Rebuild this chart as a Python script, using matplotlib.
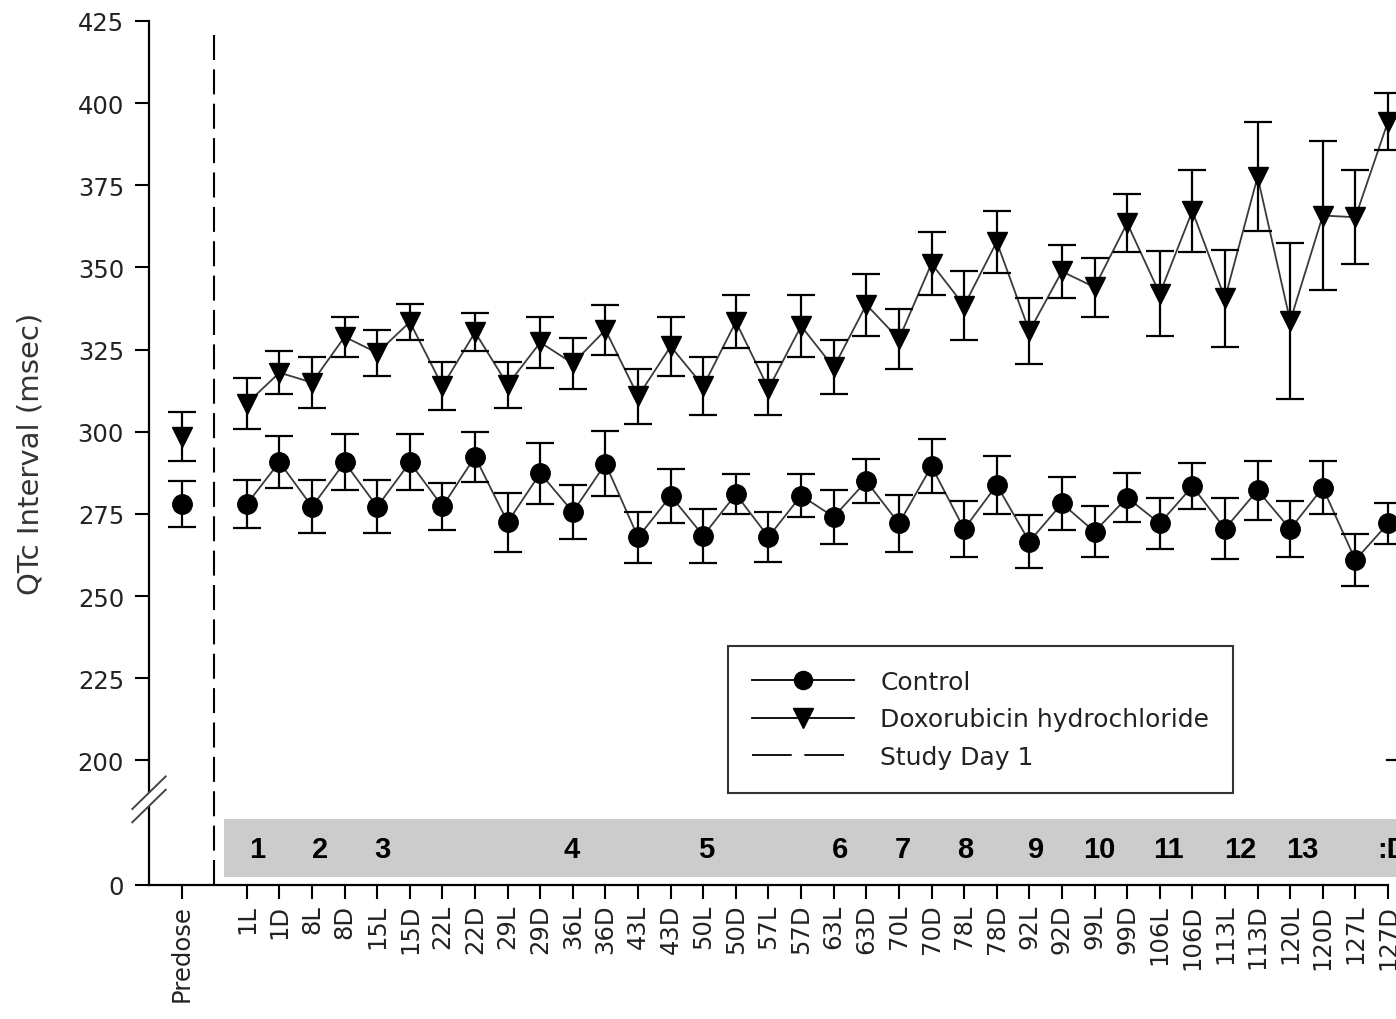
import numpy as np
import matplotlib
matplotlib.use("Agg")
import matplotlib.pyplot as plt
from matplotlib.lines import Line2D
from matplotlib.patches import Rectangle, Polygon
import matplotlib.transforms as mtransforms

# ---- data -------------------------------------------------------------
day_labels = ["1L", "1D", "8L", "8D", "15L", "15D", "22L", "22D", "29L", "29D",
              "36L", "36D", "43L", "43D", "50L", "50D", "57L", "57D", "63L", "63D",
              "70L", "70D", "78L", "78D", "92L", "92D", "99L", "99D", "106L", "106D",
              "113L", "113D", "120L", "120D", "127L", "127D"]

predose_label = "Predose"
predose_control = 278.0
predose_control_se = 7.0
predose_doxo = 298.5
predose_doxo_se = 7.5

control_mean = [278.0, 290.8, 277.2, 290.7, 277.2, 290.7, 277.3, 292.4, 272.5, 287.4,
                275.6, 290.3, 267.9, 280.5, 268.4, 281.0, 268.0, 280.6, 274.1, 285.0,
                272.1, 289.5, 270.4, 283.8, 266.6, 278.2, 269.6, 280.0, 272.1, 283.4,
                270.5, 282.2, 270.4, 283.0, 261.0, 272.1]
control_se = [7.2, 7.8, 8.0, 8.5, 8.0, 8.5, 7.2, 7.6, 9.0, 9.3,
              8.1, 9.8, 7.7, 8.1, 8.2, 6.1, 7.7, 6.5, 8.1, 6.8,
              8.6, 8.2, 8.5, 8.9, 8.1, 8.0, 7.7, 7.4, 7.7, 7.0,
              9.3, 8.9, 8.5, 8.0, 8.0, 6.1]

doxo_mean = [308.6, 318.0, 315.0, 328.9, 324.0, 333.4, 313.9, 330.3, 314.3, 327.2,
             320.8, 331.0, 310.8, 326.0, 313.9, 333.5, 313.1, 332.2, 319.6, 338.7,
             328.2, 351.2, 338.4, 357.8, 330.6, 348.8, 344.0, 363.5, 342.0, 367.2,
             340.6, 377.6, 333.7, 365.8, 365.3, 394.4]
doxo_se = [7.8, 6.6, 7.8, 6.1, 7.0, 5.6, 7.4, 5.7, 7.0, 7.7,
           7.7, 7.5, 8.3, 8.9, 8.9, 8.0, 8.1, 9.4, 8.2, 9.4,
           9.2, 9.6, 10.5, 9.5, 10.0, 8.0, 9.0, 8.8, 13.0, 12.5,
           14.7, 16.6, 23.7, 22.7, 14.3, 8.8]

week_labels = ["1", "2", "3", "4", "5", "6", "7", "8", "9", "10", "11", "12", "13"]
week_label_x = [0.31, 2.24, 4.16, 9.95, 14.08, 18.19, 20.12, 22.02, 24.22, 26.15,
                28.26, 30.47, 32.36]

yticks = [0, 200, 225, 250, 275, 300, 325, 350, 375, 400, 425]

# ---- broken y scale: 0 sits just below the 200-425 range ----------------
BREAK = 190.0
ZERO_AT = 162.1


def fwd(v):
    v = np.asarray(v, dtype=float)
    return np.where(v >= BREAK, v, ZERO_AT + v * (BREAK - ZERO_AT) / BREAK)


def inv(d):
    d = np.asarray(d, dtype=float)
    return np.where(d >= BREAK, d, (d - ZERO_AT) * BREAK / (BREAK - ZERO_AT))


plt.rcParams["font.family"] = ["DejaVu Sans"]

W, H = 1396, 1020
fig = plt.figure(figsize=(W / 100, H / 100), dpi=100)
ax = fig.add_axes([149 / W, 1 - 886 / H, 1239 / W, 864 / H])
ax.set_yscale("function", functions=(fwd, inv))

x = np.arange(len(day_labels))
x_pre = -2
x_start = -1

# week band
band_tr = mtransforms.blended_transform_factory(ax.transData, ax.transAxes)
ax.add_patch(Rectangle((-0.70, 0.0093), 40, 0.0671, transform=band_tr,
                       facecolor="#cccccc", edgecolor="none", clip_on=False, zorder=1))
for lab, xp in zip(week_labels, week_label_x):
    ax.text(xp, 0.042, lab, transform=band_tr, ha="center", va="center",
            fontsize=21, fontweight="bold", family="Liberation Sans", zorder=2)
ax.text(34.68, 0.042, ":D", transform=band_tr, ha="left", va="center",
        fontsize=21, fontweight="bold", family="Liberation Sans", zorder=2, clip_on=False)

# study day 1 marker line
ax.plot([x_start, x_start], [0, 422.5], color="black", lw=1.5,
        ls=(0, (12, 4.5)), zorder=2, clip_on=False)

ekw = dict(fmt="none", ecolor="black", elinewidth=1.6, capsize=10, capthick=1.6,
           zorder=3, clip_on=False)
mkw = dict(ls="none", color="black", zorder=5, clip_on=False)

# control series
ax.plot(x, control_mean, color="#3a3a3a", lw=1.3, zorder=2.8, clip_on=False)
ax.errorbar(x, control_mean, yerr=control_se, **ekw)
ax.plot(x, control_mean, marker="o", ms=14, **mkw)
ax.errorbar([x_pre], [predose_control], yerr=[predose_control_se], **ekw)
ax.plot([x_pre], [predose_control], marker="o", ms=14, **mkw)

# doxorubicin series
ax.plot(x, doxo_mean, color="#3a3a3a", lw=1.3, zorder=2.8, clip_on=False)
ax.errorbar(x, doxo_mean, yerr=doxo_se, **ekw)
ax.plot(x, doxo_mean, marker="v", ms=15, **mkw)
ax.errorbar([x_pre], [predose_doxo], yerr=[predose_doxo_se], **ekw)
ax.plot([x_pre], [predose_doxo], marker="v", ms=15, **mkw)

# small tick stub at the right edge
ax.plot([34.97, 35.6], [200, 200], color="black", lw=1.6, clip_on=False, zorder=3)

# axes styling
ax.set_xlim(-3, 35)
ax.set_ylim(0, 425)
ax.set_yticks(yticks)
ax.set_yticklabels([str(t) for t in yticks])
ax.set_xticks([x_pre] + list(x))
ax.set_xticklabels([predose_label] + day_labels, rotation=90)
ax.tick_params(axis="both", direction="out", length=10, width=1.5,
               labelsize=17.5, colors="black")
ax.tick_params(axis="y", pad=8)
ax.tick_params(axis="x", pad=3.5)
for lab in ax.get_xticklabels() + ax.get_yticklabels():
    lab.set_color("#222222")
for side in ("top", "right"):
    ax.spines[side].set_visible(False)
for side in ("left", "bottom"):
    ax.spines[side].set_linewidth(1.6)
ax.set_ylabel("QTc Interval (msec)", fontsize=21, color="#333333")
ax.yaxis.set_label_coords(-0.084, 0.5)

# axis break marks
ya, yb = (886 - 793.7) / 864, (886 - 807.0) / 864
dxa, dya = 16.7 / 1239, 16.3 / 864
ax.add_patch(Polygon([(-dxa, yb - dya), (dxa, yb + dya), (dxa, ya + dya), (-dxa, ya - dya)],
                     closed=True, transform=ax.transAxes, facecolor="white",
                     edgecolor="none", clip_on=False, zorder=4))
for yc in (ya, yb):
    ax.add_line(Line2D([-dxa, dxa], [yc - dya, yc + dya], transform=ax.transAxes,
                       color="#444444", lw=1.4, clip_on=False, zorder=4.5))

# legend
handles = [
    Line2D([], [], color="black", lw=1.3, marker="o", ms=13),
    Line2D([], [], color="black", lw=1.3, marker="v", ms=14),
    Line2D([], [], color="black", lw=1.3, ls=(0, (22, 7))),
]
labels = ["Control", "Doxorubicin hydrochloride", "Study Day 1"]
leg = fig.legend(handles, labels, loc="upper left",
                 bbox_to_anchor=(728 / W, 1 - 647 / H), borderaxespad=0,
                 fontsize=18, frameon=True, fancybox=False, edgecolor="black",
                 handlelength=4.1, handletextpad=1.05, labelspacing=0.54,
                 borderpad=0.95)
leg.get_frame().set_linewidth(1.5)
for t in leg.get_texts():
    t.set_color("#222222")

fig.savefig("out.png", dpi=100)
